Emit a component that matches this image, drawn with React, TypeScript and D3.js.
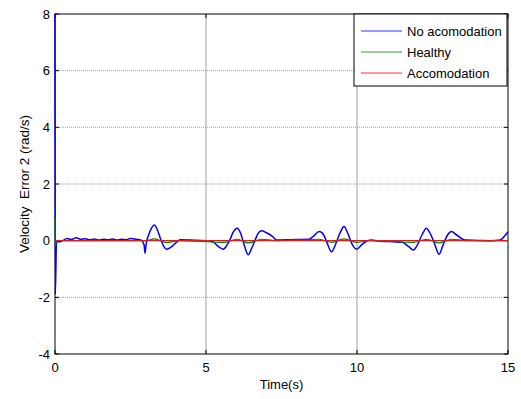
import React from 'react'
import * as d3 from 'd3'

// No acomodation (blue)
const blueT = [0, 0.01, 0.05, 0.2, 0.4, 0.55, 0.7, 0.85, 1.0, 1.15, 1.3, 1.45, 1.6, 1.75, 1.9, 2.05, 2.2, 2.35, 2.5, 2.7, 2.85, 2.95, 2.98, 3.02, 3.1, 3.2, 3.29, 3.4, 3.5, 3.6, 3.7, 3.85, 4.0, 4.15, 4.5, 5.0, 5.2, 5.4, 5.57, 5.7, 5.8, 5.9, 6.04, 6.15, 6.25, 6.4, 6.5, 6.62, 6.72, 6.84, 7.0, 7.2, 7.34, 7.6, 8.0, 8.4, 8.55, 8.75, 8.9, 9.0, 9.16, 9.3, 9.45, 9.57, 9.7, 9.85, 9.99, 10.15, 10.3, 10.45, 10.8, 11.2, 11.5, 11.7, 11.87, 12.0, 12.15, 12.3, 12.4, 12.55, 12.72, 12.85, 13.0, 13.13, 13.3, 13.58, 14.0, 14.4, 14.74, 14.9, 15.0]
const blueV = [8.5, -1.9, -0.05, -0.03, 0.08, 0.04, 0.1, 0.05, 0.07, 0.03, 0.06, 0.02, 0.05, 0.03, 0.06, 0.02, 0.05, 0.03, 0.08, 0.05, 0.02, -0.15, -0.44, -0.1, 0.2, 0.45, 0.55, 0.35, 0.05, -0.2, -0.3, -0.22, -0.08, 0.03, 0.02, 0.0, -0.02, -0.2, -0.3, -0.15, 0.05, 0.3, 0.44, 0.25, -0.1, -0.5, -0.3, 0.0, 0.25, 0.35, 0.28, 0.15, 0.02, 0.03, 0.04, 0.05, 0.15, 0.32, 0.2, -0.05, -0.39, -0.1, 0.3, 0.5, 0.25, -0.15, -0.3, -0.15, -0.03, 0.02, -0.02, -0.04, -0.06, -0.2, -0.33, -0.15, 0.2, 0.44, 0.3, -0.05, -0.48, -0.15, 0.2, 0.32, 0.2, 0.02, 0.01, 0.0, 0.02, 0.18, 0.32]

// Healthy (green)
const greenT = [0, 0.01, 0.05, 3.0, 3.29, 3.7, 4.1, 5.57, 6.04, 6.4, 6.84, 7.3, 8.75, 9.16, 9.57, 9.99, 10.4, 11.87, 12.3, 12.72, 13.13, 13.6, 15.0]
const greenV = [0.8, -0.2, 0.0, 0.0, 0.06, -0.07, 0.0, -0.06, 0.05, -0.08, 0.05, 0.0, 0.05, -0.06, 0.06, -0.06, 0.0, -0.06, 0.05, -0.08, 0.05, 0.0, 0.0]

// Accomodation (red)
const redT = [0, 15]
const redV = [0.0, 0.0]

const xTicks = [0, 5, 10, 15]
const yTicks = [-4, -2, 0, 2, 4, 6, 8]

const legendLabels = ['No acomodation', 'Healthy', 'Accomodation']
const legendColors = ['#0000ff', '#008000', '#ff0000']

const W = 521
const H = 399
const m = { left: 55, right: 13, top: 14, bottom: 45 }
const font = 'Liberation Sans, Arial, sans-serif'

export default function App() {
  const x = d3.scaleLinear().domain([0, 15]).range([m.left, W - m.right])
  const y = d3.scaleLinear().domain([-4, 8]).range([H - m.bottom, m.top])

  const mk = (ts: number[], vs: number[]) =>
    d3.line<number>().x((_, i) => x(ts[i])).y((v) => y(v)).curve(d3.curveMonotoneX)(vs) || ''

  const x0 = x(0), x1 = x(15), y0 = y(8), y1 = y(-4)

  return (
    <svg width={W} height={H} style={{ position: 'absolute', left: 0, top: 0, background: '#fff' }} fontFamily={font}>
      <defs>
        <clipPath id="plot">
          <rect x={x0 - 1} y={y0} width={x1 - x0 + 1} height={y1 - y0} />
        </clipPath>
      </defs>
      <rect x={x0} y={y0} width={x1 - x0} height={y1 - y0} fill="#fff" />
      {/* grid */}
      {xTicks.slice(1, -1).map((t) => (
        <line key={'gx' + t} x1={x(t)} x2={x(t)} y1={y0} y2={y1} stroke="#a0a0a0" strokeWidth={1} />
      ))}
      {yTicks.slice(1, -1).map((t) => (
        <line key={'gy' + t} x1={x0} x2={x1} y1={y(t)} y2={y(t)} stroke="#a0a0a0" strokeWidth={1} strokeDasharray="1,1" />
      ))}
      {/* frame */}
      <rect x={x0} y={y0} width={x1 - x0} height={y1 - y0} fill="none" stroke="#000" strokeWidth={1} />
      {xTicks.map((t) => (
        <g key={'tx' + t}>
          <line x1={x(t)} x2={x(t)} y1={y1} y2={y1 - 4} stroke="#000" />
          <line x1={x(t)} x2={x(t)} y1={y0} y2={y0 + 4} stroke="#000" />
          <text x={x(t)} y={y1 + 18} fontSize={13} textAnchor="middle">{t}</text>
        </g>
      ))}
      {yTicks.map((t) => (
        <g key={'ty' + t}>
          <line x1={x0} x2={x0 + 4} y1={y(t)} y2={y(t)} stroke="#000" />
          <line x1={x1} x2={x1 - 4} y1={y(t)} y2={y(t)} stroke="#000" />
          <text x={x0 - 5} y={y(t) + 4.5} fontSize={13} textAnchor="end">{t}</text>
        </g>
      ))}
      {/* series */}
      <g clipPath="url(#plot)" fill="none">
        <path d={mk(blueT, blueV)} stroke="#0000ff" strokeWidth={1.5} />
        <path d={mk(greenT, greenV)} stroke="#008000" strokeWidth={1.2} />
        <path d={mk(redT, redV)} stroke="#d02020" strokeWidth={1.2} />
      </g>
      {/* labels */}
      <text x={(x0 + x1) / 2} y={H - 10} fontSize={13} textAnchor="middle">Time(s)</text>
      <text transform={`translate(29,${(y0 + y1) / 2}) rotate(-90)`} fontSize={13.5} textAnchor="middle" style={{ whiteSpace: 'pre' }}>{'Velocity  Error 2 (rad/s)'}</text>
      {/* legend */}
      <g>
        <rect x={354} y={y0} width={153} height={72} fill="#fff" stroke="#000" strokeWidth={1} />
        {legendLabels.map((l, i) => (
          <g key={l}>
            <line x1={361} x2={402} y1={31 + i * 21} y2={31 + i * 21} stroke={legendColors[i]} strokeWidth={0.8} />
            <text x={407} y={36 + i * 21} fontSize={13}>{l}</text>
          </g>
        ))}
      </g>
    </svg>
  )
}
